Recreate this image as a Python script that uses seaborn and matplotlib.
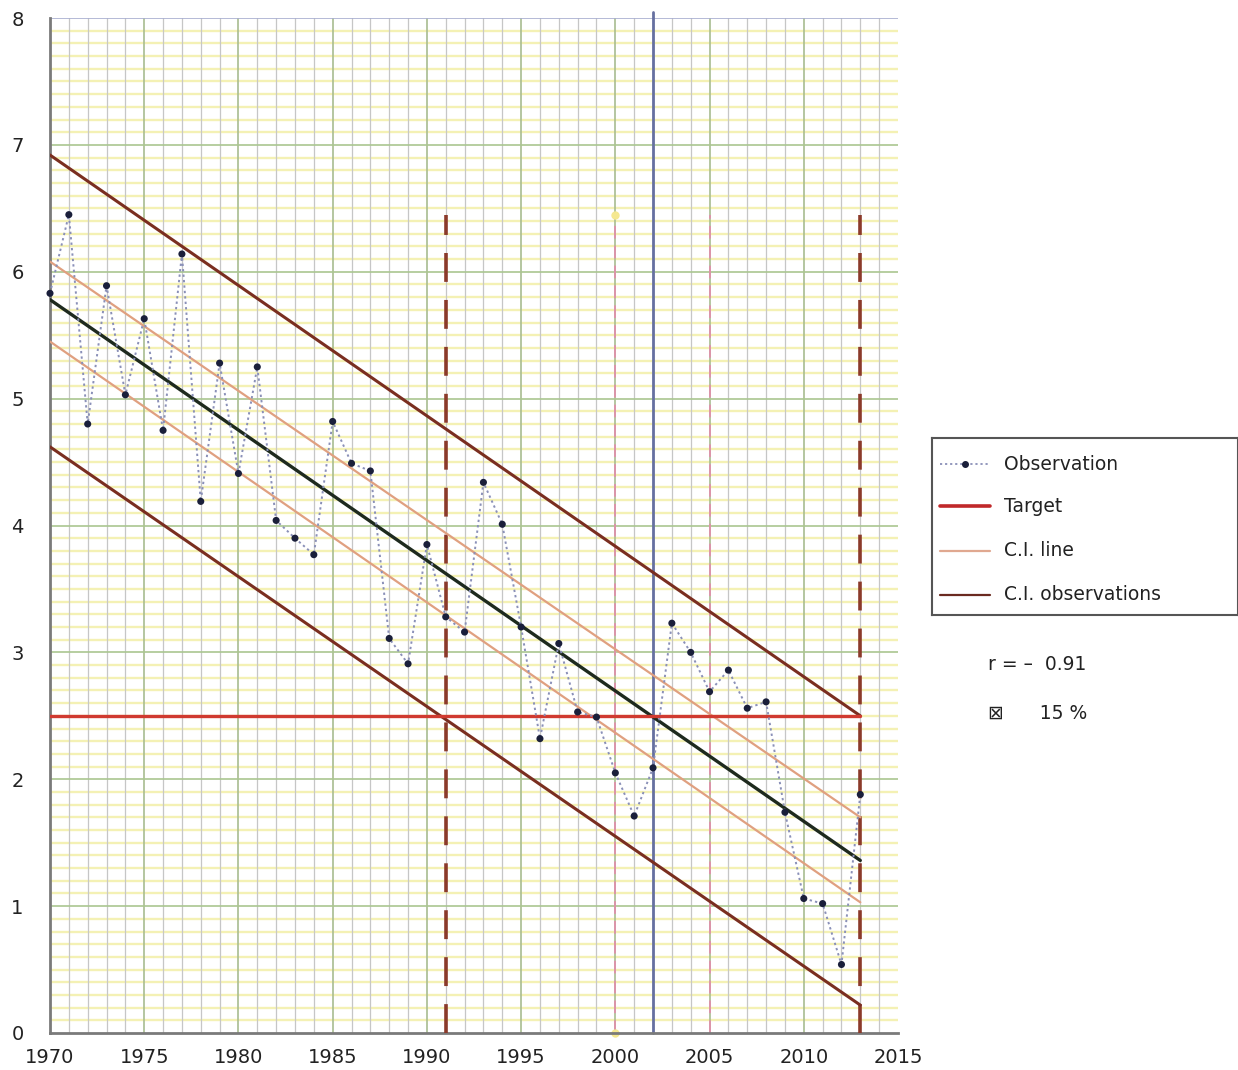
import numpy as np
import pandas as pd
import matplotlib
matplotlib.use("Agg")
import matplotlib.pyplot as plt
import seaborn as sns

# ---------------- data ----------------
years = list(range(1970, 2014))
observation = [5.83, 6.45, 4.80, 5.89, 5.03, 5.63, 4.75, 6.14, 4.19, 5.28,
               4.41, 5.25, 4.04, 3.90, 3.77, 4.82, 4.49, 4.43, 3.11, 2.91,
               3.85, 3.28, 3.16, 4.34, 4.01, 3.20, 2.32, 3.07, 2.53, 2.49,
               2.05, 1.71, 2.09, 3.23, 3.00, 2.69, 2.86, 2.56, 2.61, 1.74,
               1.06, 1.02, 0.54, 1.88]
line_years = [1970, 2013]
trend = [5.78, 1.36]
ci_line_upper = [6.08, 1.70]
ci_line_lower = [5.45, 1.03]
ci_obs_upper = [6.92, 2.50]
ci_obs_lower = [4.62, 0.22]
target = [2.5, 2.5]
marker_years_dashed = [1991, 2013]
marker_years_pink = [2000, 2005]
marker_year_blue = 2002
marker_top = 6.45
legend_labels = ["Observation", "Target", "C.I. line", "C.I. observations"]
r_text = "r = \u2013  0.91"
pct_text = "\u22a0      15 %"
x_ticks = [1970, 1975, 1980, 1985, 1990, 1995, 2000, 2005, 2010, 2015]
y_ticks = [0, 1, 2, 3, 4, 5, 6, 7, 8]

# ---------------- figure ----------------
sns.set_style("white")
plt.rcParams['font.family'] = ['DejaVu Sans']
fig = plt.figure(figsize=(12.38, 10.70), dpi=100)
ax = fig.add_axes([50/1238, 37/1070, 848/1238, 1015/1070])
ax.set_xlim(1970, 2015)
ax.set_ylim(0, 8)

# grid
for yv in np.arange(0.1, 8.0, 0.1):
    if abs(yv - round(yv)) < 1e-6:
        continue
    ax.axhline(yv, color="#f4f1b4", lw=1.7, zorder=0)
for xv in range(1971, 2015):
    if xv % 5 == 0:
        continue
    ax.axvline(xv, color="#c6c6c6", lw=0.9, zorder=0.5)
for xv in range(1975, 2015, 5):
    ax.axvline(xv, color="#a8bc90", lw=1.2, zorder=0.6)
for yv in range(1, 8):
    ax.axhline(yv, color="#aac690", lw=1.2, zorder=0.6)
ax.axhline(8, color="#a8aed0", lw=1.2, zorder=0.6)

# vertical reference lines
for xv in marker_years_dashed:
    ax.plot([xv, xv], [0, marker_top], color="#8b3a2a", lw=2.6,
            dashes=(8, 5), zorder=3)
for xv in marker_years_pink:
    ax.plot([xv, xv], [0, marker_top], color="#e090aa", lw=1.3,
            linestyle=(0, (7, 4)), zorder=1.5)
ax.plot([marker_years_pink[0]] * 2, [0, marker_top], ls="none",
        marker="o", ms=5, color="#f5e890", zorder=1.6, clip_on=False)
ax.plot([marker_year_blue] * 2, [0, 8.05], color="#6670a0", lw=2,
        zorder=1.6, clip_on=False)

# regression + CI lines
df_lines = pd.DataFrame({"year": line_years, "trend": trend,
                         "ciu": ci_line_upper, "cil": ci_line_lower,
                         "oou": ci_obs_upper, "ool": ci_obs_lower,
                         "target": target})
sns.lineplot(data=df_lines, x="year", y="oou", color="#7a2e20", lw=2.2, ax=ax, zorder=4)
sns.lineplot(data=df_lines, x="year", y="ool", color="#7a2e20", lw=2.2, ax=ax, zorder=4)
sns.lineplot(data=df_lines, x="year", y="ciu", color="#e0a080", lw=1.6, ax=ax, zorder=4)
sns.lineplot(data=df_lines, x="year", y="cil", color="#e0a080", lw=1.6, ax=ax, zorder=4)
sns.lineplot(data=df_lines, x="year", y="trend", color="#1e2a1e", lw=2.4, ax=ax, zorder=5)
sns.lineplot(data=df_lines, x="year", y="target", color="#d03a30", lw=2.4, ax=ax, zorder=5)

# observations
df_obs = pd.DataFrame({"year": years, "value": observation})
sns.lineplot(data=df_obs, x="year", y="value", color="#8a90b8", lw=1.4,
             ls=(0, (1.2, 1.6)), ax=ax, zorder=6)
sns.scatterplot(data=df_obs, x="year", y="value", color="#1a1f3a", s=26,
                edgecolor="none", ax=ax, zorder=7, clip_on=False)

# axes styling
ax.set_xlabel("")
ax.set_ylabel("")
ax.set_xticks(x_ticks)
ax.set_yticks(y_ticks)
ax.tick_params(axis="both", labelsize=14, colors="#222222", length=5,
               width=1.2, direction="out", pad=14)
ax.tick_params(axis="x", length=0, pad=11)
for s in ["top", "right"]:
    ax.spines[s].set_visible(False)
for s in ["left", "bottom"]:
    ax.spines[s].set_color("#7a7a7a")
    ax.spines[s].set_linewidth(2)

# legend (drawn as separate axes box)
lax = fig.add_axes([932/1238, (1070-615)/1070, 306/1238, 177/1070])
lax.set_xlim(0, 306)
lax.set_ylim(177, 0)
lax.set_xticks([])
lax.set_yticks([])
for s in lax.spines.values():
    s.set_color("#555555")
    s.set_linewidth(1.5)
entries_y = [26, 68, 113, 157]
lax.plot([8, 58], [entries_y[0]] * 2, color="#8a90b8", lw=1.3, ls=(0, (1.2, 1.6)))
lax.plot([33], [entries_y[0]], "o", color="#1a1f3a", ms=4)
lax.plot([8, 58], [entries_y[1]] * 2, color="#c0282a", lw=2.6)
lax.plot([8, 58], [entries_y[2]] * 2, color="#e0a890", lw=1.6)
lax.plot([8, 58], [entries_y[3]] * 2, color="#6a2a20", lw=1.6)
for yy, lab in zip(entries_y, legend_labels):
    lax.text(72, yy, lab, fontsize=13.5, va="center", ha="left", color="#222222")

fig.text(988/1238, 1 - 665/1070, r_text, fontsize=13.5, va="center",
         ha="left", color="#222222")
fig.text(988/1238, 1 - 713/1070, pct_text, fontsize=13.5, va="center",
         ha="left", color="#222222")

fig.savefig("out.png", dpi=100, facecolor="white")
